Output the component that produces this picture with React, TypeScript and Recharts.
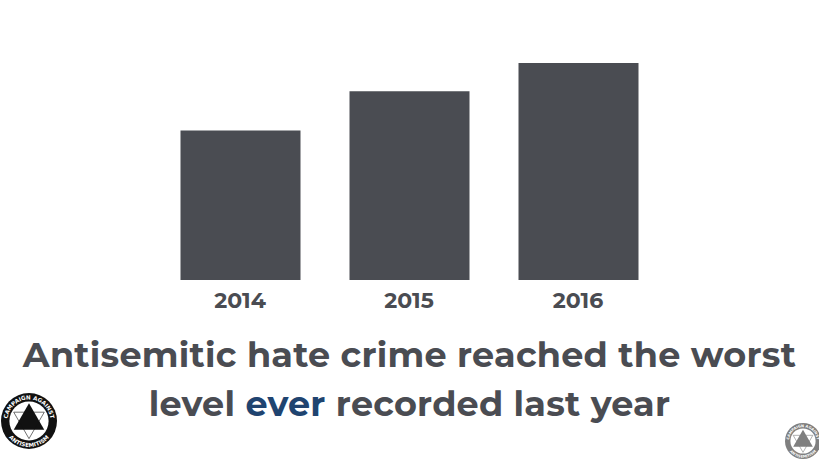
import React from "react";
import { BarChart, Bar, XAxis, YAxis } from "recharts";

const years = ["2014", "2015", "2016"];
const crimes = [743, 938, 1078];
const titleLine1 = "Antisemitic hate crime reached the worst";
const titleLine2Parts = ["level ", "ever", " recorded last year"];

const data = years.map((y, i) => ({ year: y, crimes: crimes[i] }));

const GRAY = "#4a4c52";
const BLUE = "#1f4470";
const FONT = "Montserrat, 'Open Sans', sans-serif";

const YearTick = (props: any) => {
  const { x, y, payload } = props;
  return (
    <text x={x} y={y + 20} textAnchor="middle" fill={GRAY} fontFamily={FONT} fontWeight={700} fontSize={22}>
      {payload.value}
    </text>
  );
};

const Logo = ({ cx, cy, r, color, opacity }: { cx: number; cy: number; r: number; color: string; opacity: number }) => {
  const id = `arc-${cx}`;
  const ri = r * 0.7;
  const star = (rot: number) => {
    const pts = [0, 1, 2].map((k) => {
      const a = ((rot + k * 120 - 90) * Math.PI) / 180;
      return `${cx + ri * 0.9 * Math.cos(a)},${cy + ri * 0.9 * Math.sin(a)}`;
    });
    return pts.join(" ");
  };
  const pt = (rad: number, deg: number) => {
    const a = (deg * Math.PI) / 180;
    return `${cx + rad * Math.cos(a)} ${cy + rad * Math.sin(a)}`;
  };
  const rt = r * 0.77;
  const rb = r * 0.93;
  return (
    <g opacity={opacity}>
      <circle cx={cx} cy={cy} r={r} fill={color} />
      <circle cx={cx} cy={cy} r={ri} fill="#fff" />
      <polygon points={star(0)} fill={color} />
      <polygon points={star(180)} fill="none" stroke={color} strokeWidth={0.6} />
      <path id={id} d={`M ${pt(rt, 155)} A ${rt} ${rt} 0 1 1 ${pt(rt, 25)}`} fill="none" />
      <text fontSize={r * 0.2} fill="#fff" fontFamily="'DejaVu Sans', sans-serif" fontWeight={700}>
        <textPath href={`#${id}`} startOffset="50%" textAnchor="middle">CAMPAIGN AGAINST</textPath>
      </text>
      <path id={`${id}b`} d={`M ${pt(rb, 150)} A ${rb} ${rb} 0 0 0 ${pt(rb, 30)}`} fill="none" />
      <text fontSize={r * 0.2} fill="#fff" fontFamily="'DejaVu Sans', sans-serif" fontWeight={700}>
        <textPath href={`#${id}b`} startOffset="50%" textAnchor="middle">ANTISEMITISM</textPath>
      </text>
    </g>
  );
};

export default function App() {
  return (
    <div style={{ position: "absolute", left: 0, top: 0, width: 819, height: 461, background: "#fff" }}>
      <BarChart
        width={819}
        height={461}
        data={data}
        margin={{ top: 63, right: 156.5, bottom: 141, left: 155.5 }}
      >
        <XAxis dataKey="year" axisLine={false} tickLine={false} tick={<YearTick />} interval={0} height={40} />
        <YAxis hide domain={[0, 1078]} />
        <Bar dataKey="crimes" fill={GRAY} barSize={120} isAnimationActive={false} />
      </BarChart>
      <svg width={819} height={461} style={{ position: "absolute", left: 0, top: 0, pointerEvents: "none" }}>
        <text x={409.5} y={367} textAnchor="middle" fill={GRAY} fontFamily={FONT} fontWeight={700} fontSize={35} letterSpacing={0.25}>
          {titleLine1}
        </text>
        <text x={409.5} y={416} textAnchor="middle" fill={GRAY} fontFamily={FONT} fontWeight={700} fontSize={35} letterSpacing={0.25}>
          <tspan>{titleLine2Parts[0]}</tspan>
          <tspan fill={BLUE}>{titleLine2Parts[1]}</tspan>
          <tspan>{titleLine2Parts[2]}</tspan>
        </text>
        <Logo cx={29} cy={421} r={28} color="#111" opacity={1} />
        <Logo cx={803} cy={441} r={18} color="#555" opacity={0.75} />
      </svg>
    </div>
  );
}
